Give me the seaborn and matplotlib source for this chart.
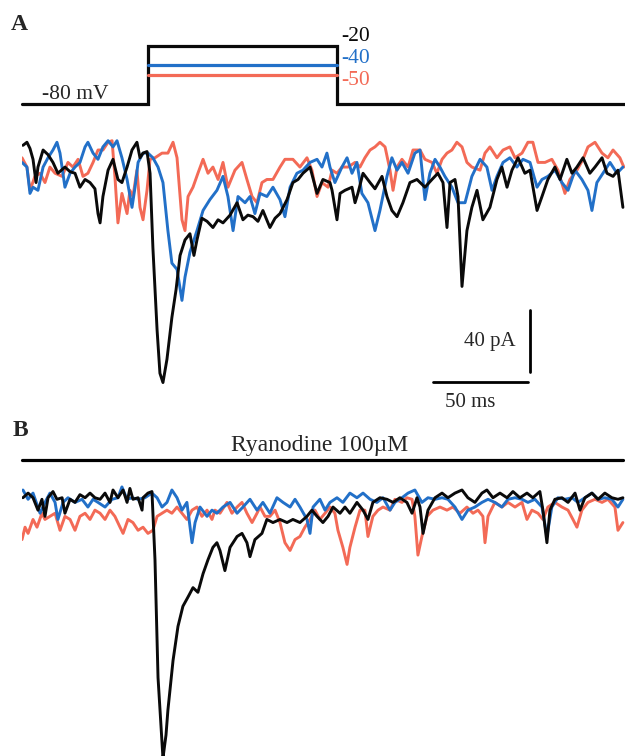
import numpy as np
import pandas as pd
import matplotlib.pyplot as plt
import seaborn as sns

sns.set_style("white")
plt.rcParams["font.family"] = ["Liberation Serif", "DejaVu Serif"]

# --- data (time in ms, current in pA, voltage in mV) ---
holding_mv = -80
step_mv = [-20, -40, -50]
step_labels = ["-20", "-40", "-50"]
step_on_ms, step_off_ms = 66.3, 165.8
trace_len_ms = 317.4

# Panel A (control)
a_black_t = [0.5, 2.6, 4.2, 5.8, 7.4, 8.4, 11.1, 13.7, 16.3, 18.9, 22.6, 25.3, 27.9, 30.5, 33.2, 35.8, 38.4, 40, 41.1,
             42.6, 45.3, 47.9, 50.5, 52.6, 55.3, 57.9, 60.5, 62.1, 63.7, 65.8, 67.4, 68.9, 71.1, 72.6, 74.2, 76.3, 78.9,
             81.1, 83.2, 85.8, 88.4, 90.5, 92.1, 94.7, 97.4, 100.5, 103.2, 105.8, 109.5, 113.2, 116.3, 118.9, 121.6,
             124.2, 126.8, 130.5, 133.2, 135.8, 139.5, 142.6, 145.3, 147.9, 151.6, 155.3, 158.4, 162.1, 163.2, 165.8,
             167.4, 170, 173.7, 175.3, 176.8, 179.5, 183.2, 185.8, 189.5, 192.1, 194.7, 197.4, 200.5, 204.2, 207.9,
             212.1, 215.8, 218.9, 221.6, 223.7, 225.3, 227.9, 229.5, 231.6, 234.2, 236.8, 239.5, 242.6, 246.3, 250,
             252.6, 255.3, 257.9, 261.1, 264.7, 267.4, 271.1, 273.7, 276.8, 280.5, 283.2, 286.8, 289.5, 292.1, 295.3,
             298.9, 301.6, 305.3, 307.9, 311.1, 313.7, 316.3]
a_black_i = [3, 5, 1, -6, -21, -11, 0, -3, -8, -15, -11, -14, -15, -24, -19, -21, -25, -41, -47,
             -30, -13, -6, -19, -21, -11, 0, 5, -5, -2, -1, -15, -63, -116, -144, -150, -135, -108,
             -90, -68, -58, -54, -68, -58, -44, -46, -50, -45, -47, -42, -34, -45, -42, -43,
             -46, -39, -50, -44, -41, -32, -21, -19, -15, -11, -28, -19, -21, -26, -45,
             -28, -26, -24, -34, -28, -15, -21, -25, -17, -30, -39, -43, -34, -21, -19,
             -24, -19, -15, -21, -50, -21, -19, -30, -88, -52, -37, -26, -45, -37, -19,
             -11, -24, -13, -5, -15, -13, -39, -30, -19, -11, -19, -6, -15, -11, -5,
             -15, -11, -5, -15, -17, -13, -37]

a_blue_t = [0, 2.6, 4.2, 5.8, 8.4, 11.1, 13.7, 16.3, 18.4, 20, 22.6, 25.3, 27.9, 30.5, 33.2, 34.7, 37.4, 40, 42.6,
            45.3, 47.9, 50, 52.6, 55.3, 57.9, 59.5, 61.1, 63.7, 66.3, 68.9, 71.6, 74.2, 76.8, 78.9, 81.6, 84.2, 85.8,
            88.4, 92.1, 95.3, 98.9, 102.6, 105.8, 108.4, 111.1, 113.7, 117.4, 120, 122.6, 125.3, 128.9, 132.1, 135.8,
            138.4, 141.1, 144.7, 147.9, 151.6, 155.3, 157.9, 160.5, 162.1, 164.7, 168.4, 171.1, 173.7, 176.3, 178.9,
            182.1, 185.8, 188.4, 192.1, 194.7, 197.4, 200, 203.2, 206.8, 209.5, 212.1, 214.7, 217.4, 220, 222.6,
            226.3, 229.5, 233.2, 236.8, 241.1, 244.7, 247.4, 250, 253.2, 256.8, 260.5, 263.7, 267.4, 271.1, 273.7,
            276.8, 280.5, 284.2, 287.4, 291.1, 294.7, 297.9, 300, 302.6, 305.8, 309.5, 313.2, 316.3]
a_blue_i = [-8, -11, -28, -24, -26, -11, -5, 0, 5, -2, -24, -15, -11, -8, 2, 5, -2, -6, 2,
            6, 2, 6, -5, -19, -37, -24, -8, -2, -2, -5, -11, -21, -52, -73, -77, -97, -82,
            -66, -52, -39, -32, -26, -17, -30, -52, -30, -34, -30, -41, -28, -30, -24, -32,
            -43, -24, -15, -13, -8, -6, -11, -2, -11, -21, -11, -5, -15, -8, -28,
            -34, -52, -39, -17, -5, -13, -8, -15, -2, 0, -32, -15, -6, -11, -17,
            -24, -34, -34, -17, -6, -11, -26, -17, -8, -5, -11, -6, -8, -24, -19,
            -17, -13, -21, -26, -13, -19, -26, -39, -21, -15, -8, -15, -11]

a_red_t = [0, 2.6, 4.2, 6.8, 9.5, 12.1, 14.7, 17.4, 21.1, 24.2, 26.8, 29.5, 32.1, 34.7, 37.4, 40, 42.6, 45.3, 47.4,
           48.9, 50.5, 52.6, 55.3, 56.8, 58.4, 60.5, 62.1, 63.7, 65.8, 67.4, 70, 73.7, 76.8, 79.5, 81.6, 84.2, 85.8,
           87.4, 90, 92.6, 95.3, 97.9, 100.5, 103.2, 105.8, 108.4, 112.1, 115.8, 118.4, 121.1, 123.7, 126.3, 128.9,
           132.1, 135.8, 138.4, 142.6, 146.3, 150, 152.6, 155.3, 157.9, 161.1, 163.2, 165.8, 168.4, 171.6, 175.3,
           177.9, 180.5, 183.2, 185.8, 188.4, 191.1, 193.7, 195.3, 197.4, 200, 203.2, 205.8, 209.5, 212.1, 215.8,
           218.4, 221.1, 223.7, 226.3, 228.9, 231.6, 234.2, 236.8, 241.1, 243.7, 246.3, 250, 253.2, 256.8, 259.5,
           263.2, 266.3, 268.9, 271.6, 275.3, 278.9, 282.1, 285.8, 288.4, 292.1, 295.3, 297.9, 301.6, 305.3, 308.4,
           311.1, 314.7, 316.8]
a_red_i = [-5, -11, -26, -17, -15, -21, -11, -15, -17, -8, -11, -6, -17, -15, -8, 0, 0, 5, 6,
           -17, -47, -28, -41, -26, -30, -13, -37, -45, -26, -6, -5, -2, -2, 5, -5, -45, -52,
           -30, -24, -15, -6, -15, -11, -19, -8, -24, -13, -8, -19, -30, -34, -21, -19,
           -19, -11, -6, -6, -11, -5, -13, -30, -21, -24, -13, -15, -11, -11, -8,
           -11, -5, 0, 2, 5, 2, -13, -26, -11, -6, -11, 0, 0, -6, -8,
           -15, -6, -2, 0, 5, 2, -8, -11, -13, -2, 2, -5, 0, 2, -5,
           -2, 5, 5, -8, -8, -6, -13, -28, -19, -13, -6, 2, 5, -2, -5,
           0, -5, -11]

# Panel B (ryanodine 100 uM)
b_black_t = [0.5, 3.2, 5.8, 8.4, 10.5, 12.1, 13.7, 16.3, 18.4, 21.1, 22.6, 25.3, 27.9, 30.5, 33.2, 35.8, 38.4, 41.1,
             43.7, 46.3, 47.9, 50.5, 53.2, 55.3, 56.8, 58.4, 61.1, 63.2, 63.7, 66.3, 68.4, 70, 71.6, 74.2, 75.8, 76.8,
             79.5, 82.1, 84.7, 87.4, 90, 92.6, 95.3, 97.9, 100.5, 102.6, 104.2, 106.8, 109.5, 113.2, 115.8, 118.4,
             120, 122.6, 126.3, 128.9, 132.1, 135.8, 139.5, 142.6, 146.3, 150, 152.6, 155.3, 158.4, 161.1, 163.7,
             167.4, 170, 172.6, 176.3, 179.5, 182.1, 184.7, 188.4, 192.1, 195.3, 198.9, 202.6, 205.3, 207.9, 209.5,
             211.1, 213.7, 217.4, 221.1, 224.2, 227.9, 231.6, 234.7, 238.4, 242.1, 244.7, 247.9, 251.6, 255.3, 258.4,
             262.1, 265.8, 268.9, 272.6, 274.2, 276.3, 277.9, 280.5, 284.2, 287.4, 291.1, 293.7, 296.3, 300, 303.2,
             306.8, 310.5, 313.7, 316.3]
b_black_i = [-5, -2, -5, -13, -6, -17, -5, -1, -6, -5, -15, -6, -8, -3, -5, -2, -5, -6,
             -2, -8, 0, -5, 0, -8, 1, -6, -5, -13, -5, -2, -1, -45, -121, -173, -158, -142,
             -110, -88, -75, -69, -63, -66, -54, -45, -37, -34, -39, -52, -37, -30, -28, -34,
             -43, -32, -28, -19, -21, -19, -21, -19, -21, -17, -13, -17, -21, -17, -11,
             -15, -11, -15, -8, -13, -19, -8, -5, -6, -8, -5, -8, -15, -5, -11,
             -28, -13, -5, -2, -5, -2, 0, -5, -8, -2, 0, -5, -2, -5, -1,
             -5, -2, -5, -1, -13, -34, -13, -6, -5, -8, -2, -13, -5, -2, -6,
             -2, -5, -6, -5]

b_blue_t = [0.5, 3.2, 5.8, 9.5, 12.1, 14.7, 17.4, 18.9, 21.6, 24.2, 27.9, 31.6, 34.7, 37.4, 40, 43.7, 47.4, 50.5,
            52.6, 55.3, 57.9, 61.1, 64.7, 68.4, 71.1, 73.7, 76.3, 78.9, 81.6, 84.2, 86.8, 89.5, 91.1, 93.7, 97.4,
            100, 102.6, 105.8, 109.5, 113.2, 116.3, 120, 123.7, 126.8, 130.5, 134.2, 137.4, 141.1, 143.7, 146.3, 150,
            151.6, 153.2, 156.8, 159.5, 162.1, 165.8, 168.9, 172.6, 176.3, 179.5, 183.2, 186.8, 190, 193.7, 196.3,
            200, 203.2, 206.8, 210.5, 213.7, 217.4, 221.1, 224.2, 227.9, 231.6, 234.7, 238.4, 242.1, 245.3, 248.9,
            252.6, 255.8, 259.5, 263.2, 266.3, 270, 273.7, 276.3, 278.9, 282.1, 285.8, 289.5, 292.6, 296.3, 300,
            303.2, 306.8, 310.5, 313.7, 316.3]
b_blue_i = [0, -6, -2, -15, -8, -2, -8, -19, -8, -5, -8, -6, -11, -6, -8, -11, -6, -5,
            2, -6, -5, -6, -5, -2, -5, -11, -8, 0, -5, -13, -8, -34, -21, -11, -17,
            -13, -15, -11, -8, -15, -11, -6, -13, -8, -15, -5, -8, -11, -6, -11, -19,
            -28, -11, -6, -13, -8, -5, -8, -2, -5, -2, -6, -8, -5, -13, -8,
            -5, -2, 0, -8, -5, -6, -5, -6, -11, -19, -13, -11, -8, -6, -8,
            -11, -6, -5, -6, -8, -6, -11, -30, -11, -5, -6, -5, -8, -5, -2,
            -6, -5, -6, -11, -6]

b_red_t = [0, 1.6, 3.2, 5.8, 7.9, 10.5, 12.1, 14.7, 17.4, 20, 22.6, 25.3, 27.9, 30.5, 33.2, 35.8, 38.4, 41.1, 43.7,
           46.3, 48.9, 51.6, 53.2, 55.8, 58.4, 61.1, 63.7, 66.3, 68.9, 71.1, 73.7, 76.3, 78.9, 81.6, 84.2, 86.8,
           89.5, 92.1, 94.7, 97.4, 100, 101.6, 104.2, 107.9, 110.5, 113.2, 115.8, 118.4, 121.1, 123.7, 125.3, 127.9,
           130.5, 133.2, 135.8, 138.4, 141.1, 143.7, 146.3, 148.9, 151.6, 154.2, 156.8, 159.5, 162.1, 164.7, 166.3,
           168.9, 171.1, 172.6, 175.3, 177.9, 180.5, 182.1, 184.7, 187.4, 190, 193.7, 196.3, 200, 202.6, 205.3,
           206.8, 208.4, 210.5, 213.2, 216.3, 220, 223.7, 226.8, 230.5, 234.2, 237.4, 240, 242.6, 243.7, 245.3,
           248.9, 252.6, 255.8, 259.5, 263.2, 265.8, 268.4, 271.6, 274.2, 276.8, 280.5, 284.2, 287.4, 290, 292.1,
           294.7, 297.9, 301.6, 305.3, 308.4, 312.1, 313.7, 316.3]
b_red_i = [-32, -24, -28, -19, -24, -15, -19, -17, -15, -26, -17, -19, -26, -17, -15, -19, -13, -15, -19,
           -13, -17, -24, -28, -19, -21, -26, -24, -28, -26, -17, -15, -13, -15, -11, -15, -19,
           -13, -11, -17, -13, -19, -13, -15, -8, -15, -11, -8, -15, -21, -15, -11, -17,
           -17, -13, -21, -34, -39, -32, -30, -24, -19, -13, -19, -15, -11, -15, -26,
           -37, -48, -37, -24, -13, -13, -30, -17, -13, -11, -13, -6, -8, -5, -6,
           -17, -42, -30, -17, -13, -11, -13, -11, -15, -11, -15, -13, -17, -34, -17,
           -8, -11, -8, -11, -8, -19, -13, -15, -19, -11, -8, -11, -13, -19, -24,
           -13, -8, -6, -8, -6, -11, -26, -21]

scale_ms = 50
scale_pa = 40

colors = {"-20": "#0a0a0a", "-40": "#2270c8", "-50": "#f36a56"}
order = ["-50", "-40", "-20"]


def panel_df(traces):
    rows = []
    for lab, (t, i) in traces.items():
        rows.append(pd.DataFrame({"t": t, "I": i, "step": lab}))
    return pd.concat(rows, ignore_index=True)


df_a = panel_df({"-20": (a_black_t, a_black_i), "-40": (a_blue_t, a_blue_i), "-50": (a_red_t, a_red_i)})
df_b = panel_df({"-20": (b_black_t, b_black_i), "-40": (b_blue_t, b_blue_i), "-50": (b_red_t, b_red_i)})

W, H = 625, 756
fig = plt.figure(figsize=(W / 100, H / 100), dpi=100)
x0 = 22 / W

# voltage protocol
ax_v = fig.add_axes([x0, 1 - 125 / H, 1 - x0, 125 / H])
ax_v.set_xlim(0, trace_len_ms)
ax_v.set_ylim(-101.7, 27.6)
ax_v.plot([0, step_on_ms, step_on_ms, step_off_ms, step_off_ms, trace_len_ms],
          [holding_mv, holding_mv, step_mv[0], step_mv[0], holding_mv, holding_mv],
          color=colors["-20"], lw=2.3, solid_joinstyle="miter", clip_on=False)
for mv, lab in zip(step_mv[1:], step_labels[1:]):
    ax_v.plot([step_on_ms, step_off_ms], [mv, mv], color=colors[lab], lw=2.3)
for mv, lab, dy in zip(step_mv, step_labels, [10.3, 6.6, -5.2]):
    ax_v.text(step_off_ms + 2, mv + dy, lab, color=colors[lab], fontsize=15.5, ha="left", va="center")
ax_v.text(28, holding_mv + 10, "-80 mV", fontsize=15.5, ha="center", va="center")
ax_v.axis("off")

# panel A traces
ax_a = fig.add_axes([x0, 1 - 412 / H, 1 - x0, 284 / H])
sns.lineplot(data=df_a, x="t", y="I", hue="step", hue_order=order, palette=colors,
             estimator=None, sort=False, legend=False, linewidth=2.1, ax=ax_a)
ax_a.set_xlim(0, trace_len_ms)
ax_a.set_ylim(-169, 14.2)
ax_a.axis("off")

# scale bars
bar_x, bar_y = 216.3, -149.6
ax_a.plot([bar_x, bar_x + scale_ms], [bar_y, bar_y], color="k", lw=2.0)
ax_a.plot([bar_x + scale_ms + 1.1] * 2, [bar_y + 6.4, bar_y + 6.4 + scale_pa], color="k", lw=2.0)
ax_a.text(bar_x + scale_ms - 6.5, bar_y + 26, f"{scale_pa} pA", fontsize=15, ha="right", va="center")
ax_a.text(bar_x + 19.5, bar_y - 13, f"{scale_ms} ms", fontsize=15, ha="center", va="center", clip_on=False)

# panel B traces
ax_b = fig.add_axes([x0, 0, 1 - x0, 286 / H])
sns.lineplot(data=df_b, x="t", y="I", hue="step", hue_order=order, palette=colors,
             estimator=None, sort=False, legend=False, linewidth=2.1, ax=ax_b)
ax_b.set_xlim(0, trace_len_ms)
ax_b.set_ylim(-171.6, 12.9)
ax_b.axis("off")

# ryanodine bar + label
fig.add_artist(plt.Line2D([22 / W, 623 / W], [1 - 460 / H] * 2, color="k", lw=2.3))
fig.text(320 / W, 1 - 445 / H, "Ryanodine 100\u00b5M", fontsize=17, ha="center", va="center")

fig.text(11 / W, 1 - 25 / H, "A", fontsize=17, fontweight="bold", ha="left", va="center")
fig.text(13 / W, 1 - 430 / H, "B", fontsize=17, fontweight="bold", ha="left", va="center")

fig.savefig("out.png", dpi=100, facecolor="white")
